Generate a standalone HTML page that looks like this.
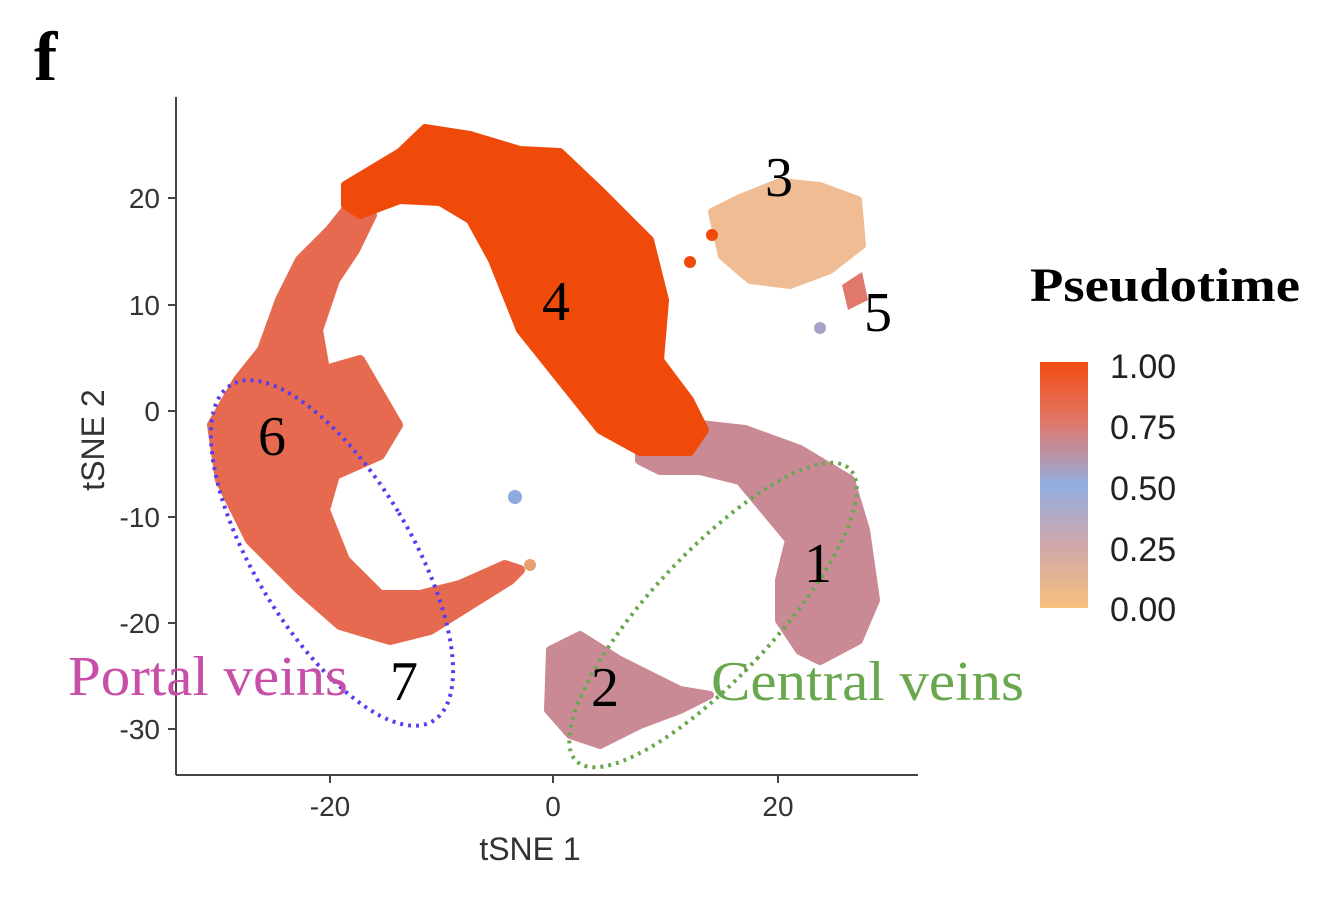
<!DOCTYPE html>
<html><head><meta charset="utf-8"><style>
html,body{margin:0;padding:0;background:#fff;}
svg{display:block;}
</style></head><body>
<svg width="1320" height="921" viewBox="0 0 1320 921" xmlns="http://www.w3.org/2000/svg">
<defs>
<linearGradient id="g" x1="0" y1="0" x2="0" y2="1">
<stop offset="0" stop-color="#f24c10"/>
<stop offset="0.25" stop-color="#e0786c"/>
<stop offset="0.5" stop-color="#93aee0"/>
<stop offset="0.75" stop-color="#d0a8a8"/>
<stop offset="1" stop-color="#f7c07c"/>
</linearGradient>
</defs>
<text x="34" y="80" font-family="Liberation Serif,serif" font-weight="bold" font-size="70">f</text>
<g stroke-linejoin="round">
<polygon fill="#e66a50" stroke="#e66a50" stroke-width="10" points="350,205 330,230 300,260 280,300 262,350 238,380 212,425 220,480 250,540 300,590 340,625 390,640 430,630 470,605 510,580 520,570 505,565 460,585 420,595 380,595 345,560 325,510 335,475 380,455 398,425 360,360 325,370 318,330 335,280 355,250 372,215"/>
<polygon fill="#c98a96" stroke="#c98a96" stroke-width="10" points="640,440 700,425 745,430 800,450 850,480 865,530 875,600 858,640 820,660 800,650 780,620 780,580 790,540 765,510 740,480 700,470 660,470 640,460"/>
<polygon fill="#f04a0a" stroke="#f04a0a" stroke-width="8" points="345,185 400,152 425,128 470,135 520,150 560,152 600,190 650,240 665,300 660,360 690,400 705,430 690,452 640,452 600,430 560,380 520,330 492,260 470,220 440,202 400,200 360,215 345,205"/>
<polygon fill="#c98a96" stroke="#c98a96" stroke-width="8" points="550,650 580,635 620,660 680,690 710,695 680,710 640,725 600,745 570,735 548,710"/>
<polygon fill="#f0bc94" stroke="#f0bc94" stroke-width="8" points="712,212 740,198 780,182 820,186 858,200 862,245 830,270 790,285 750,280 722,256"/>
<polygon fill="#e0786c" points="842,285 862,272 868,300 848,310"/>
<circle cx="515" cy="497" r="7" fill="#8fa8e0"/>
<circle cx="820" cy="328" r="6" fill="#a9a0c8"/>
<circle cx="530" cy="565" r="6" fill="#e8a070"/>
<circle cx="690" cy="262" r="6" fill="#f04a0a"/>
<circle cx="712" cy="235" r="6" fill="#f04a0a"/>
</g>
<ellipse cx="332" cy="553" rx="78" ry="196" transform="rotate(-31 332 553)" fill="none" stroke="#5b3cf0" stroke-width="4" stroke-dasharray="3,5"/>
<ellipse cx="713" cy="615" rx="62" ry="200" transform="rotate(43 713 615)" fill="none" stroke="#6aa84f" stroke-width="4" stroke-dasharray="3,5"/>
<line x1="176" y1="97" x2="176" y2="775" stroke="#444" stroke-width="2"/>
<line x1="176" y1="775" x2="918" y2="775" stroke="#444" stroke-width="2"/>
<g stroke="#444" stroke-width="2">
<line x1="168" y1="198" x2="176" y2="198"/><line x1="168" y1="305" x2="176" y2="305"/><line x1="168" y1="411" x2="176" y2="411"/><line x1="168" y1="517" x2="176" y2="517"/><line x1="168" y1="623" x2="176" y2="623"/><line x1="168" y1="729" x2="176" y2="729"/>
<line x1="330" y1="775" x2="330" y2="783"/><line x1="553" y1="775" x2="553" y2="783"/><line x1="778" y1="775" x2="778" y2="783"/>
</g>
<g font-family="Liberation Sans,sans-serif" font-size="28" fill="#333" text-anchor="end">
<text x="160" y="208">20</text><text x="160" y="315">10</text><text x="160" y="421">0</text><text x="160" y="527">-10</text><text x="160" y="633">-20</text><text x="160" y="739">-30</text>
</g>
<g font-family="Liberation Sans,sans-serif" font-size="28" fill="#333" text-anchor="middle">
<text x="330" y="816">-20</text><text x="553" y="816">0</text><text x="778" y="816">20</text>
<text x="530" y="860" font-size="32">tSNE 1</text>
<text x="0" y="0" font-size="32" transform="translate(104 440) rotate(-90)">tSNE 2</text>
</g>
<g font-family="Liberation Serif,serif" font-size="56" fill="#000" text-anchor="middle">
<text x="779" y="196">3</text><text x="556" y="320">4</text><text x="878" y="331">5</text><text x="272" y="455">6</text><text x="818" y="582">1</text><text x="605" y="706">2</text><text x="404" y="700">7</text>
</g>
<text x="68" y="695" font-family="Liberation Serif,serif" font-size="56" fill="#c84fa8" textLength="280" lengthAdjust="spacingAndGlyphs">Portal veins</text>
<text x="711" y="700" font-family="Liberation Serif,serif" font-size="56" fill="#6aa84f" textLength="313" lengthAdjust="spacingAndGlyphs">Central veins</text>
<text x="1030" y="301" font-family="Liberation Serif,serif" font-weight="bold" font-size="48" textLength="270" lengthAdjust="spacingAndGlyphs">Pseudotime</text>
<rect x="1040" y="362" width="48" height="246" fill="url(#g)"/>
<g font-family="Liberation Sans,sans-serif" font-size="34" fill="#222">
<text x="1110" y="378">1.00</text><text x="1110" y="439">0.75</text><text x="1110" y="500">0.50</text><text x="1110" y="561">0.25</text><text x="1110" y="621">0.00</text>
</g>
</svg>
</body></html>
